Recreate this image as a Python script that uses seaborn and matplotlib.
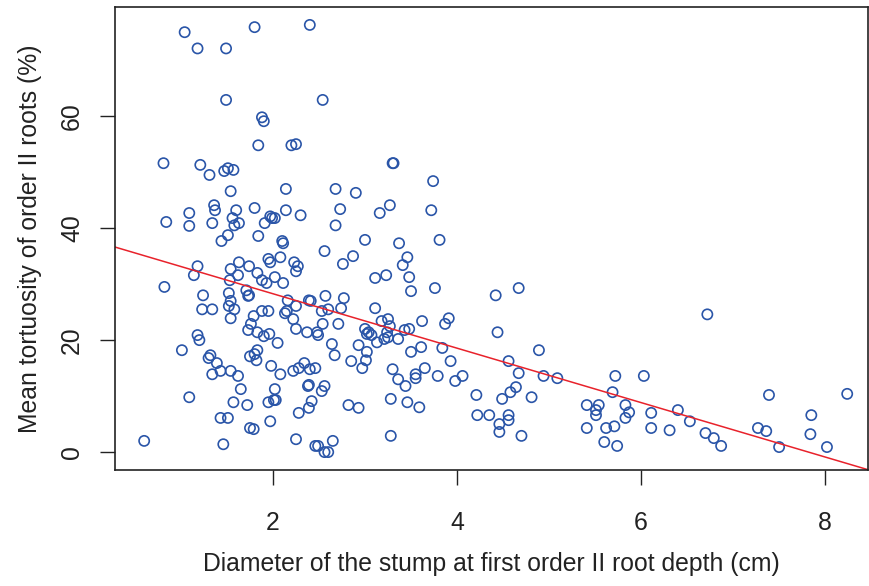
import matplotlib
matplotlib.use("Agg")
import matplotlib.pyplot as plt
import seaborn as sns
import pandas as pd

diameter = [
    1.04, 1.80, 2.40, 1.18, 1.49, 1.49, 1.88, 1.90, 1.84, 2.20, 2.25, 0.81, 1.21, 1.31, 1.47, 1.51, 1.57,
    1.54, 2.14, 1.36, 1.37, 1.09, 0.84, 1.09, 1.34, 1.60, 1.56, 1.58, 1.63, 1.80, 1.91, 1.97, 1.99, 2.02,
    2.14, 2.30, 1.51, 1.84, 1.44, 2.10, 2.11,
    2.54, 3.30, 3.31, 3.74, 2.68, 2.90, 2.73, 3.27, 3.16, 3.72, 2.68, 3.00, 3.37, 3.81,
    1.18, 1.14, 0.82, 1.63, 1.54, 1.62, 1.74, 1.83, 1.88, 1.93, 1.95, 1.97, 2.08, 2.02, 2.11, 2.23, 2.27,
    2.25, 1.53, 1.24, 1.52, 1.54, 1.52, 1.58, 1.54, 1.23, 1.34, 1.71, 1.73, 1.74, 1.88, 1.95, 1.79, 1.76,
    1.73, 1.83, 1.90, 1.96, 2.05, 2.16, 2.25, 2.13, 2.15, 2.22, 2.25, 2.37, 2.39, 2.41, 1.18, 1.20, 1.01,
    1.32, 1.30, 1.39, 1.34, 1.43, 1.54, 1.62, 1.65, 1.75, 1.80, 1.83, 1.82, 1.98, 2.08, 2.02, 1.95, 2.01,
    2.03, 2.22, 2.28, 2.34, 2.40, 2.39, 2.42, 2.39, 2.28, 1.09, 1.57, 1.72, 1.43, 1.51, 1.75, 1.79, 1.97,
    0.60, 1.46, 2.25, 2.46,
    2.56, 2.76, 2.87, 3.46, 3.41, 3.48, 3.11, 3.23, 3.50, 3.76, 4.42, 4.44, 2.57, 2.77, 2.53, 2.60, 2.74,
    3.11, 2.54, 2.71, 2.48, 2.49, 2.64, 2.67, 2.93, 3.02, 3.00, 3.04, 3.07, 3.02, 3.13, 3.18, 3.25, 3.27,
    3.24, 3.25, 3.21, 3.36, 3.43, 3.48, 3.62, 3.87, 3.91, 3.61, 3.50, 3.84, 3.93, 2.85, 2.97, 3.01, 2.46,
    3.30, 3.36, 3.44, 3.55, 3.55, 3.65, 3.79, 3.98, 4.06, 4.21, 4.49, 2.38, 2.53, 2.56, 2.82, 2.93, 3.28,
    3.46, 3.59, 4.22, 4.35, 4.46, 4.46, 3.28, 2.49, 2.56, 2.60, 2.65,
    4.67, 4.89, 4.56, 4.67, 4.94, 5.09, 4.64, 4.58, 4.81, 4.56, 4.56, 4.70, 5.72, 6.03, 5.69, 5.41, 5.54,
    5.51, 5.51, 5.83, 5.87, 5.83, 6.11, 6.40, 6.53, 5.41, 5.62, 5.71, 6.11, 6.31, 5.60, 5.74,
    6.72, 7.39, 8.24, 7.85, 6.70, 6.79, 6.87, 7.27, 7.36, 7.50, 7.84, 8.02,
]
tortuosity = [
    75.0, 75.9, 76.3, 72.1, 72.1, 62.9, 59.8, 59.1, 54.8, 54.8, 55.0, 51.6, 51.3, 49.5, 50.2, 50.7, 50.4,
    46.6, 47.0, 44.1, 43.2, 42.7, 41.1, 40.4, 40.9, 43.2, 41.8, 40.5, 40.9, 43.6, 40.9, 42.1, 41.8, 41.8,
    43.2, 42.3, 38.75, 38.6, 37.7, 37.7, 37.3,
    62.9, 51.6, 51.6, 48.4, 47.0, 46.3, 43.4, 44.1, 42.7, 43.2, 40.5, 37.9, 37.3, 37.9,
    33.2, 31.6, 29.5, 33.9, 32.7, 31.6, 33.2, 32.0, 30.7, 30.2, 34.5, 33.9, 34.8, 31.25, 30.2, 33.9, 33.2,
    32.3, 30.7, 28.0, 28.4, 27.0, 26.1, 25.5, 23.9, 25.5, 25.5, 28.9, 27.9, 28.0, 25.2, 25.2, 24.3, 22.9,
    21.8, 21.4, 20.7, 21.1, 19.5, 27.1, 26.1, 24.8, 25.2, 23.75, 22.0, 21.4, 27.1, 27.0, 20.9, 20.0, 18.2,
    17.3, 16.8, 15.9, 13.9, 14.5, 14.5, 13.6, 11.25, 17.1, 17.5, 18.2, 16.4, 15.4, 13.9, 11.25, 8.9, 9.3,
    9.3, 14.5, 15.0, 15.9, 14.8, 12.0, 9.1, 7.9, 7.0, 9.8, 8.9, 8.4, 6.1, 6.1, 4.3, 4.1, 5.5,
    2.0, 1.4, 2.3, 1.1,
    35.9, 33.6, 35.0, 34.8, 33.4, 31.25, 31.1, 31.6, 28.75, 29.3, 28.0, 21.4, 27.9, 27.5, 25.2, 25.5, 25.7,
    25.7, 22.9, 22.9, 21.4, 20.9, 19.3, 17.3, 19.1, 17.9, 22.0, 21.4, 20.9, 21.1, 19.6, 23.4, 23.75, 22.5,
    21.4, 20.5, 20.2, 20.2, 21.8, 22.0, 23.4, 22.9, 23.9, 18.75, 17.9, 18.6, 16.25, 16.25, 15.0, 16.4, 15.0,
    14.8, 13.0, 11.8, 13.9, 13.2, 15.0, 13.6, 12.7, 13.6, 10.2, 9.5, 11.8, 10.9, 11.8, 8.4, 7.9, 9.5,
    8.9, 8.0, 6.6, 6.6, 5.0, 3.6, 2.9, 1.1, 0.0, 0.0, 2.0,
    29.3, 18.2, 16.25, 14.1, 13.6, 13.2, 11.6, 10.7, 9.8, 6.6, 5.7, 2.9, 13.6, 13.6, 10.7, 8.4, 8.4,
    7.5, 6.6, 8.4, 7.1, 6.1, 7.0, 7.5, 5.5, 4.3, 4.3, 4.6, 4.3, 3.9, 1.8, 1.1,
    24.6, 10.2, 10.4, 6.6, 3.4, 2.5, 1.1, 4.3, 3.75, 0.9, 3.2, 0.9,
]
fit_intercept = 38.0
fit_slope = -4.86
x_ticks = [2, 4, 6, 8]
y_ticks = [0, 20, 40, 60]
x_label = "Diameter of the stump at first order II root depth (cm)"
y_label = "Mean tortuosity of order II roots (%)"

sns.set_theme(style="white")
plt.rcParams["font.family"] = ["Liberation Sans", "DejaVu Sans"]

df = pd.DataFrame({"d": diameter, "t": tortuosity})

W, H = 869, 586
L, R, T, B = 115, 868, 7, 470
fig = plt.figure(figsize=(W / 100, H / 100), dpi=100)
ax = fig.add_axes([L / W, 1 - B / H, (R - L) / W, (B - T) / H])

sns.scatterplot(data=df, x="d", y="t", ax=ax, marker="o", s=54,
                facecolors="none", edgecolor="#2a55a8", linewidth=1.2, legend=False)
ax.axline((0, fit_intercept), slope=fit_slope, color="#e8222b", linewidth=1.1)

ax.set_xlim(0.283, 8.466)
ax.set_ylim(-3.2, 79.5)
ax.set_xticks(x_ticks)
ax.set_yticks(y_ticks)
fs = 17.8
ax.set_xticklabels([str(v) for v in x_ticks], fontsize=fs, color="#222222")
ax.set_yticklabels([str(v) for v in y_ticks], fontsize=fs, color="#222222",
                   rotation=90, va="center")
ax.tick_params(axis="both", direction="out", length=10.8, width=1.0, color="#222222",
               bottom=True, left=True)
ax.tick_params(axis="x", pad=18.5)
ax.tick_params(axis="y", pad=11.5)
ax.set_xlabel(x_label, fontsize=fs, color="#222222")
ax.set_ylabel(y_label, fontsize=fs, color="#222222")
ax.xaxis.set_label_coords(0.5, -(552 - B) / (B - T))
ax.yaxis.set_label_coords(-(L - 42) / (R - L), 0.5)
for sp in ax.spines.values():
    sp.set_visible(True)
    sp.set_color("#222222")
    sp.set_linewidth(1.2)

fig.savefig("out.png", dpi=100)
